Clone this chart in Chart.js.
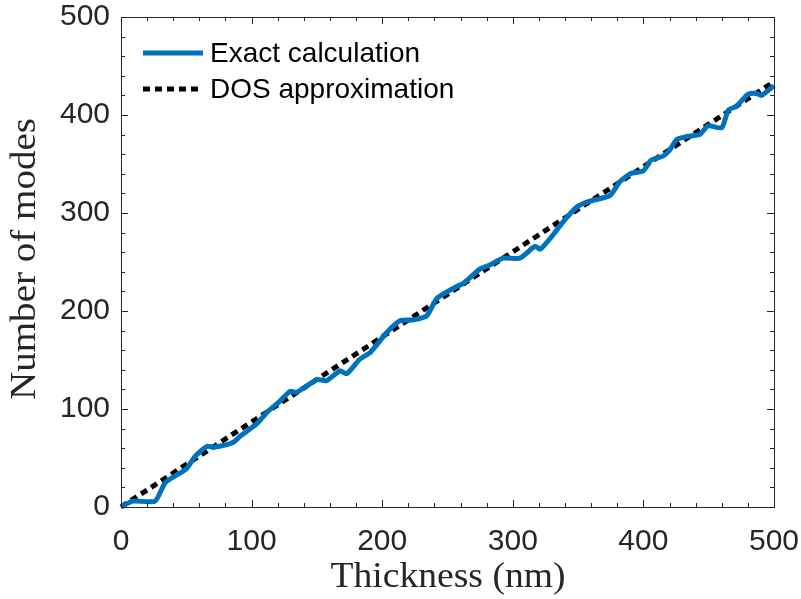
<!DOCTYPE html>
<html>
<head>
<meta charset="utf-8">
<script src="https://cdn.jsdelivr.net/npm/chart.js@4.4.0/dist/chart.umd.min.js"></script>
<style>
  html, body { margin: 0; padding: 0; background: #fff; }
  #wrap { width: 801px; height: 599px; }
</style>
</head>
<body>
<div id="wrap"><canvas id="myChart" width="801" height="599"></canvas></div>
<script>
// Exact calculation
const thicknessExact = [0, 9, 26, 34, 50, 57, 66, 71, 86, 91, 104, 112, 120, 129.5, 134.5, 150, 157.5,
    167.7, 172.8, 183, 191, 203.5, 213.6, 224, 234, 242, 257, 262, 275, 282.5, 292.5, 305.5, 317, 321,
    331, 341, 350, 359, 374.5, 382, 390, 400, 406, 415, 420, 425.5, 433, 443, 449.5, 460, 465, 471.4,
    480, 486.7, 490.5, 500];
const modesExact = [0, 6, 6, 25, 39, 52, 62, 61, 66, 72, 85, 97, 106, 118, 117, 130, 129,
    139, 136, 151, 158, 178, 190, 191, 195, 213, 225, 228, 243, 247, 254, 254, 266, 263,
    278, 295, 307, 312, 318, 332, 340, 343, 354, 358, 364, 375, 378, 380, 389, 387, 405, 409,
    421, 422, 420, 430];

// DOS approximation
const thicknessDos = [0, 500];
const modesDos = [0, 434];

const seriesNames = ['Exact calculation', 'DOS approximation'];
const xTitle = 'Thickness (nm)';
const yTitle = 'Number of modes';

const axisColor = '#262626';
const blue = '#0072BD';

function toPoints(xs, ys) {
    return xs.map((x, i) => ({ x: x, y: ys[i] }));
}

// Cadre, graduations internes, titres et légende
const matlabAxes = {
    id: 'matlabAxes',
    afterDatasetsDraw(chart) {
        const ctx = chart.ctx;
        const { left, right, top, bottom } = chart.chartArea;
        const xs = chart.scales.x;
        const ys = chart.scales.y;
        ctx.save();
        ctx.strokeStyle = axisColor;
        ctx.lineWidth = 1;
        ctx.beginPath();
        for (let v = 0; v <= 500; v += 20) {
            const len = v % 100 === 0 ? 7 : 4;
            const px = Math.round(xs.getPixelForValue(v)) + 0.5;
            ctx.moveTo(px, bottom); ctx.lineTo(px, bottom - len);
            ctx.moveTo(px, top); ctx.lineTo(px, top + len);
            const py = Math.round(ys.getPixelForValue(v)) + 0.5;
            ctx.moveTo(left, py); ctx.lineTo(left + len, py);
            ctx.moveTo(right, py); ctx.lineTo(right - len, py);
        }
        ctx.stroke();
        ctx.strokeRect(Math.round(left) + 0.5, Math.round(top) + 0.5,
            Math.round(right - left), Math.round(bottom - top));

        // titres des axes
        ctx.fillStyle = axisColor;
        ctx.font = '35px "Liberation Serif", "DejaVu Serif", serif';
        ctx.textAlign = 'center';
        ctx.textBaseline = 'middle';
        let w = ctx.measureText(xTitle).width;
        ctx.save();
        ctx.translate(448, 578);
        ctx.scale(235 / w, 1);
        ctx.fillText(xTitle, 0, 0);
        ctx.restore();
        w = ctx.measureText(yTitle).width;
        ctx.save();
        ctx.translate(26, 259);
        ctx.rotate(-Math.PI / 2);
        ctx.scale(282 / w, 1);
        ctx.fillText(yTitle, 0, 0);
        ctx.restore();

        // légende
        ctx.font = '28px "Liberation Sans", Arial, sans-serif';
        ctx.textAlign = 'left';
        ctx.fillStyle = '#000';
        const rows = [53, 89];
        chart.data.datasets.forEach((ds, i) => {
            ctx.save();
            ctx.strokeStyle = ds.borderColor;
            ctx.lineWidth = ds.borderWidth;
            ctx.setLineDash(ds.borderDash || []);
            ctx.beginPath();
            ctx.moveTo(143, rows[i]);
            ctx.lineTo(203, rows[i]);
            ctx.stroke();
            ctx.restore();
            ctx.fillText(ds.label, 210, rows[i] + 1);
        });
        ctx.restore();
    }
};

const ctx = document.getElementById('myChart').getContext('2d');
new Chart(ctx, {
    type: 'line',
    data: {
        datasets: [{
            label: seriesNames[0],
            data: toPoints(thicknessExact, modesExact),
            borderColor: blue,
            borderWidth: 5,
            pointRadius: 0,
            tension: 0.2,
            fill: false,
            clip: 10
        }, {
            label: seriesNames[1],
            data: toPoints(thicknessDos, modesDos),
            borderColor: '#000000',
            borderWidth: 5,
            borderDash: [7, 5],
            pointRadius: 0,
            fill: false,
            clip: 10
        }]
    },
    options: {
        responsive: false,
        animation: false,
        layout: { padding: { top: 17, right: 27, left: 0, bottom: 0 } },
        plugins: {
            legend: { display: false },
            tooltip: { enabled: false }
        },
        scales: {
            x: {
                type: 'linear',
                min: 0, max: 500,
                grid: { display: false, drawTicks: false },
                border: { display: false },
                ticks: {
                    stepSize: 100,
                    padding: 17,
                    color: axisColor,
                    maxRotation: 0,
                    font: { family: '"Liberation Sans", Arial, sans-serif', size: 30 }
                },
                afterFit(scale) {
                    scale.height = 92;
                    scale.paddingLeft = 0;
                    scale.paddingRight = 0;
                }
            },
            y: {
                type: 'linear',
                min: 0, max: 500,
                grid: { display: false, drawTicks: false },
                border: { display: false },
                ticks: {
                    stepSize: 100,
                    padding: 11,
                    color: axisColor,
                    font: { family: '"Liberation Sans", Arial, sans-serif', size: 30, lineHeight: 1 }
                },
                afterFit(scale) {
                    scale.width = 121;
                    scale.paddingTop = 0;
                    scale.paddingBottom = 0;
                }
            }
        }
    },
    plugins: [matlabAxes]
});
</script>
</body>
</html>
